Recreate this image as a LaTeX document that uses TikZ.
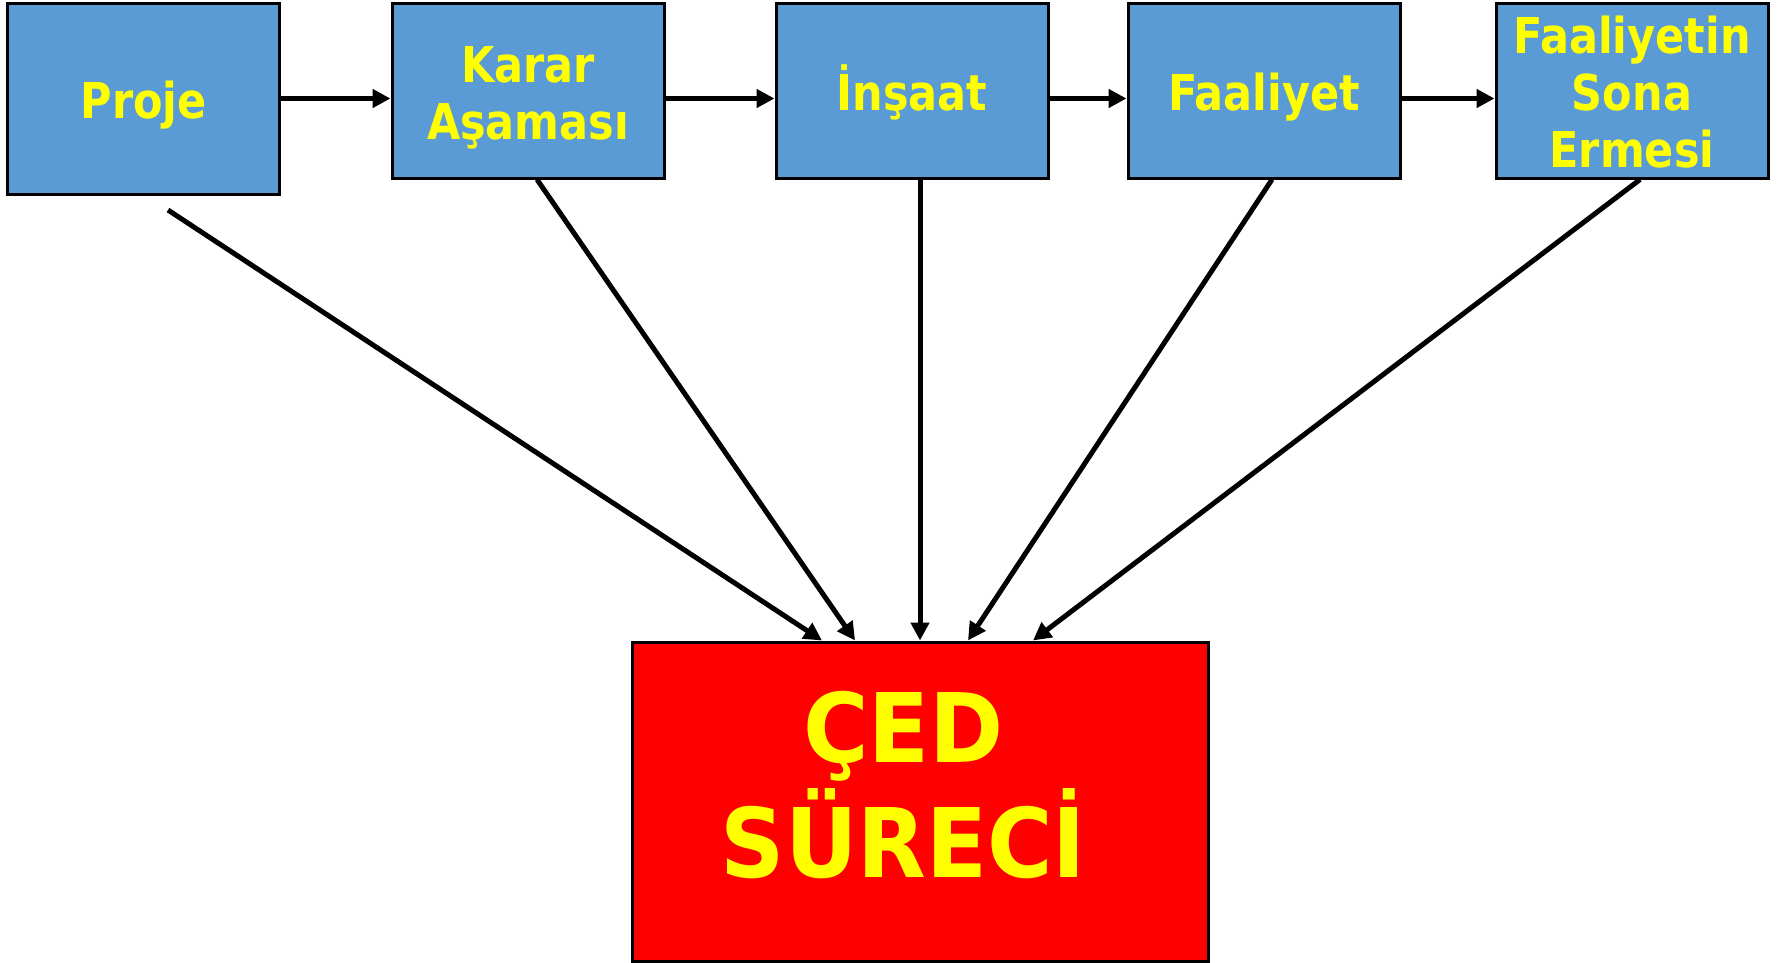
\documentclass[tikz,border=0pt]{standalone}
\usepackage{fontspec}
\newfontfamily\boxfont{DejaVu Sans}[FakeStretch=0.87]
\newfontfamily\cedfont{DejaVu Sans}[FakeStretch=0.93]
\usetikzlibrary{arrows.meta}
\definecolor{boxblue}{HTML}{5B9BD5}
\definecolor{ylw}{HTML}{FFFF00}
\definecolor{cedred}{HTML}{FF0000}
\newcommand{\bline}[1]{\rule{0pt}{40pt}\smash{#1}}
\newcommand{\rline}[1]{\rule[-33pt]{0pt}{103pt}\smash{#1}\hspace*{33pt}}
\begin{document}
\begin{tikzpicture}[x=1pt,y=-1pt,
  box/.style={draw=black,line width=3pt,fill=boxblue,text=ylw,
    font=\boxfont\bfseries\fontsize{49.4}{57}\selectfont,align=center,inner sep=0pt,
    minimum width=272pt,minimum height=175pt},
  cedbox/.style={draw=black,line width=3pt,fill=cedred,text=ylw,
    font=\cedfont\bfseries\fontsize{96}{115}\selectfont,align=center,inner sep=0pt,
    minimum width=576pt,minimum height=319pt},
  conn/.style={line width=5pt,-{Triangle[length=18pt,width=18pt]}}]
\useasboundingbox (0,0) rectangle (1787,962);
% top row
\node[box,minimum height=191pt] (proje) at (143.75,98.5) {\bline{Proje}};
\node[box] (karar) at (528,90.5) {\bline{Karar}\\\bline{Aşaması}};
\node[box] (insaat) at (912,90.5) {\bline{İnşaat}};
\node[box] (faal) at (1264,90.5) {\bline{Faaliyet}};
\node[box] (sona) at (1632,90.5) {\bline{Faaliyetin}\\\bline{Sona}\\\bline{Ermesi}};
% CED
\node[cedbox] (ced) at (920,801.5) {\rline{ÇED}\\\rline{SÜRECİ}};
% horizontal arrows
\draw[conn] (proje.east) -- (proje.east -| karar.west);
\draw[conn] (karar.east |- proje.east) -- (insaat.west |- proje.east);
\draw[conn] (insaat.east |- proje.east) -- (faal.west |- proje.east);
\draw[conn] (faal.east |- proje.east) -- (sona.west |- proje.east);
% diagonal arrows
\coordinate (pstart) at (168,210);
\draw[conn] (pstart) -- ([xshift=-98pt]ced.north);
\draw[conn] ([xshift=9pt]karar.south) -- ([xshift=-65pt]ced.north);
\draw[conn] ([xshift=8pt]insaat.south) -- ([xshift=0pt]ced.north);
\draw[conn] ([xshift=8pt]faal.south) -- ([xshift=48pt]ced.north);
\draw[conn] ([xshift=8pt]sona.south) -- ([xshift=113pt]ced.north);
\end{tikzpicture}
\end{document}
